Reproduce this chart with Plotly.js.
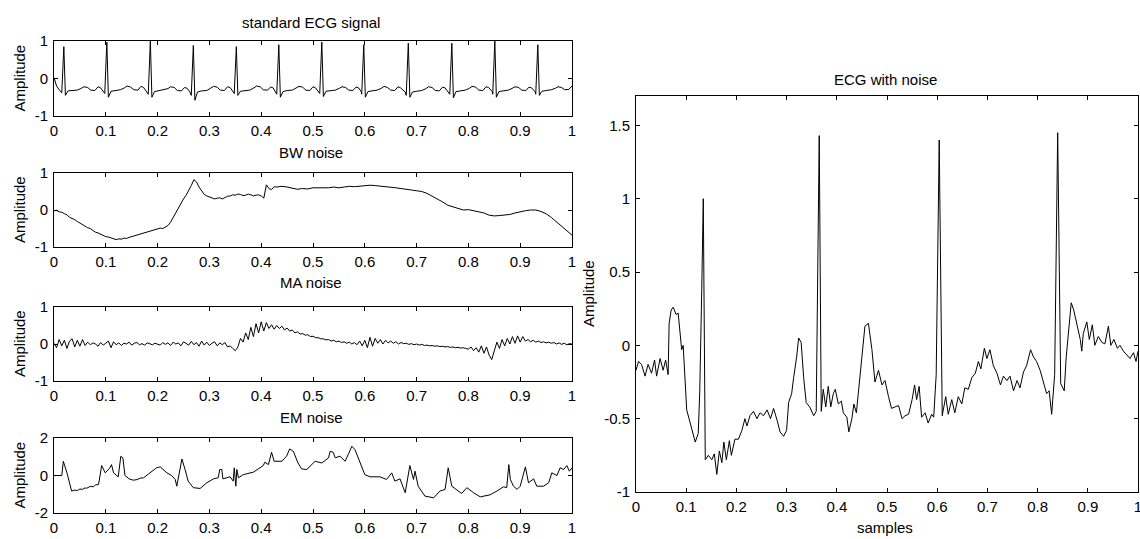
<!DOCTYPE html>
<html>
<head>
<meta charset="utf-8">
<script src="https://cdn.plot.ly/plotly-3.0.1.min.js"></script>
<style>html,body{margin:0;padding:0;background:#fff;}#chart{width:1140px;height:539px;}</style>
</head>
<body>
<div id="chart"></div>
<script>
// ---------- standard ECG signal ----------
const ecgX = [0,0.005,0.010,
0.015,0.019,0.022,0.027,0.035,0.045,0.053,0.058,0.065,0.071,0.079,0.085,0.090,0.095,
0.098,0.102,0.105,0.110,0.118,0.128,0.136,0.141,0.148,0.154,0.162,0.168,0.173,0.178,
0.182,0.186,0.189,0.194,0.202,0.212,0.220,0.225,0.232,0.238,0.246,0.252,0.257,0.262,
0.265,0.269,0.272,0.277,0.285,0.295,0.303,0.308,0.315,0.321,0.329,0.335,0.340,0.345,
0.348,0.352,0.355,0.360,0.368,0.378,0.386,0.391,0.398,0.404,0.412,0.418,0.423,0.428,
0.430,0.434,0.437,0.442,0.450,0.460,0.468,0.473,0.480,0.486,0.494,0.500,0.505,0.510,
0.513,0.517,0.520,0.525,0.533,0.543,0.551,0.556,0.563,0.569,0.577,0.583,0.588,0.593,
0.594,0.598,0.601,0.606,0.614,0.624,0.632,0.637,0.644,0.650,0.658,0.664,0.669,0.678,
0.680,0.684,0.687,0.692,0.700,0.710,0.718,0.723,0.730,0.736,0.744,0.750,0.755,0.762,
0.764,0.768,0.771,0.776,0.784,0.794,0.802,0.807,0.814,0.820,0.828,0.834,0.839,0.846,
0.847,0.851,0.854,0.859,0.867,0.877,0.885,0.890,0.897,0.903,0.911,0.917,0.922,0.929,
0.930,0.934,0.937,0.942,0.950,0.960,0.968,0.973,0.980,0.986,0.994,1.000];
const ecgY = [0.02,-0.2,-0.3,
-0.38,0.85,-0.45,-0.33,-0.32,-0.31,-0.26,-0.22,-0.24,-0.31,-0.32,-0.22,-0.25,-0.34,
-0.40,0.97,-0.50,-0.34,-0.33,-0.30,-0.25,-0.20,-0.23,-0.30,-0.31,-0.21,-0.24,-0.36,
-0.42,1.00,-0.50,-0.35,-0.33,-0.31,-0.27,-0.22,-0.24,-0.32,-0.33,-0.24,-0.26,-0.35,
-0.45,0.88,-0.58,-0.36,-0.33,-0.32,-0.26,-0.21,-0.23,-0.31,-0.32,-0.22,-0.24,-0.35,
-0.40,0.85,-0.45,-0.34,-0.32,-0.31,-0.25,-0.20,-0.22,-0.30,-0.31,-0.23,-0.25,-0.36,
-0.42,0.90,-0.50,-0.35,-0.32,-0.31,-0.26,-0.21,-0.23,-0.31,-0.32,-0.22,-0.25,-0.36,
-0.40,0.97,-0.48,-0.34,-0.33,-0.31,-0.26,-0.22,-0.24,-0.31,-0.32,-0.23,-0.25,-0.35,
-0.42,0.90,-0.50,-0.35,-0.33,-0.31,-0.26,-0.21,-0.24,-0.31,-0.32,-0.22,-0.25,-0.36,
-0.45,0.94,-0.50,-0.36,-0.34,-0.32,-0.27,-0.22,-0.24,-0.32,-0.33,-0.23,-0.25,-0.36,
-0.42,0.94,-0.52,-0.35,-0.33,-0.31,-0.26,-0.21,-0.23,-0.31,-0.32,-0.22,-0.24,-0.35,
-0.42,1.00,-0.50,-0.35,-0.33,-0.31,-0.26,-0.22,-0.24,-0.31,-0.32,-0.23,-0.25,-0.36,
-0.42,0.90,-0.45,-0.34,-0.32,-0.30,-0.26,-0.22,-0.24,-0.30,-0.29,-0.20];

// ---------- BW noise ----------
const bwX = [0,0.005,0.01,0.015,0.02,0.025,0.03,0.035,0.04,0.045,0.05,0.055,0.06,0.065,0.07,0.075,0.08,0.085,0.09,0.095,
0.10,0.105,0.11,0.115,0.12,0.125,0.13,0.135,0.14,0.145,0.15,0.155,0.16,0.165,0.17,0.175,0.18,0.185,0.19,0.195,
0.20,0.205,0.21,0.215,0.22,0.225,0.23,0.235,0.24,0.245,0.25,0.255,0.26,0.265,0.27,0.275,0.28,0.285,0.29,0.295,
0.30,0.305,0.31,0.315,0.32,0.325,0.33,0.335,0.34,0.345,0.35,0.355,0.36,0.365,0.37,0.375,0.38,0.385,0.39,0.395,
0.40,0.405,0.41,0.415,0.42,0.425,0.43,0.44,0.45,0.46,0.47,0.48,0.49,0.50,0.51,0.52,0.53,0.54,0.55,0.56,0.57,0.58,0.59,
0.60,0.61,0.62,0.63,0.64,0.65,0.66,0.67,0.68,0.69,0.70,0.71,0.72,0.73,0.74,0.75,0.76,0.77,0.78,0.79,
0.80,0.81,0.82,0.83,0.84,0.85,0.86,0.87,0.88,0.89,0.90,0.91,0.92,0.93,0.94,0.95,0.96,0.97,0.98,0.99,1.00];
const bwY = [-0.02,-0.01,-0.05,-0.06,-0.10,-0.13,-0.20,-0.22,-0.26,-0.31,-0.35,-0.41,-0.44,-0.48,-0.50,-0.56,-0.60,-0.62,-0.66,-0.70,
-0.72,-0.73,-0.76,-0.79,-0.80,-0.78,-0.79,-0.76,-0.77,-0.74,-0.72,-0.71,-0.68,-0.66,-0.63,-0.62,-0.60,-0.57,-0.55,-0.54,
-0.52,-0.49,-0.50,-0.47,-0.42,-0.33,-0.20,-0.08,0.05,0.18,0.30,0.40,0.52,0.66,0.82,0.76,0.62,0.50,0.42,0.38,
0.35,0.31,0.30,0.32,0.33,0.30,0.34,0.37,0.38,0.41,0.40,0.43,0.42,0.39,0.40,0.43,0.41,0.38,0.40,0.41,
0.38,0.32,0.68,0.58,0.55,0.63,0.62,0.64,0.62,0.60,0.56,0.58,0.57,0.60,0.60,0.58,0.60,0.62,0.60,0.62,0.64,0.63,0.65,
0.66,0.67,0.66,0.65,0.64,0.63,0.60,0.58,0.55,0.54,0.52,0.50,0.45,0.38,0.30,0.22,0.13,0.08,0.03,0.00,
0.01,-0.02,-0.03,-0.08,-0.14,-0.16,-0.15,-0.14,-0.12,-0.08,-0.04,-0.02,0.00,0.00,-0.04,-0.10,-0.20,-0.32,-0.45,-0.55,-0.68];

// ---------- MA noise ----------
const maX = [0,0.005,0.010,0.015,0.020,0.025,0.030,0.035,0.040,0.045,0.050,0.055,0.060,0.065,0.070,0.075,0.080,0.085,0.090,0.095,
0.100,0.105,0.110,0.115,0.120,0.125,0.130,0.135,0.140,0.145,0.150,0.155,0.160,0.165,0.170,0.175,0.180,0.185,0.190,0.195,
0.200,0.205,0.210,0.215,0.220,0.225,0.230,0.235,0.240,0.245,0.250,0.255,0.260,0.265,0.270,0.275,0.280,0.285,0.290,0.295,
0.300,0.305,0.310,0.315,0.320,0.325,0.330,0.335,0.340,0.345,0.350,0.355,0.360,0.365,0.370,0.375,0.380,0.385,0.390,0.395,
0.400,0.405,0.410,0.415,0.420,0.425,0.430,0.435,0.440,0.445,0.450,0.455,0.460,0.465,0.470,0.475,0.480,0.485,0.490,0.495,
0.500,0.505,0.510,0.515,0.520,0.525,0.530,0.535,0.540,0.545,0.550,0.555,0.560,0.565,0.570,0.575,0.580,0.585,0.590,0.595,
0.600,0.605,0.610,0.615,0.620,0.625,0.630,0.635,0.640,0.645,0.650,0.655,0.660,0.665,0.670,0.675,0.680,0.685,0.690,0.695,
0.700,0.705,0.710,0.715,0.720,0.725,0.730,0.735,0.740,0.745,0.750,0.755,0.760,0.765,0.770,0.775,0.780,0.785,0.790,0.795,
0.800,0.805,0.810,0.815,0.820,0.825,0.830,0.835,0.840,0.845,0.850,0.855,0.860,0.865,0.870,0.875,0.880,0.885,0.890,0.895,
0.900,0.905,0.910,0.915,0.920,0.925,0.930,0.935,0.940,0.945,0.950,0.955,0.960,0.965,0.970,0.975,0.980,0.985,0.990,0.995,1.000];
const maY = [0.02,-0.10,0.12,-0.05,0.10,-0.12,0.08,0.14,-0.08,0.10,-0.06,0.12,-0.04,0.05,-0.02,0.03,0.00,-0.06,0.04,-0.03,
0.02,0.08,-0.10,0.06,-0.02,0.03,-0.04,0.02,0.00,0.05,-0.03,0.02,0.04,-0.02,0.01,-0.03,0.03,0.00,-0.02,0.02,
0.00,-0.03,0.04,-0.01,0.03,-0.04,0.05,0.00,0.03,-0.05,0.06,0.01,-0.03,0.07,-0.02,0.04,-0.06,0.08,-0.03,0.05,
-0.04,0.02,0.06,-0.05,0.03,-0.02,0.04,-0.08,-0.05,-0.12,-0.18,-0.08,0.15,0.05,0.30,0.12,0.45,0.20,0.55,0.30,
0.60,0.35,0.58,0.42,0.52,0.40,0.50,0.42,0.48,0.38,0.43,0.35,0.38,0.30,0.33,0.27,0.28,0.24,0.25,0.20,
0.21,0.17,0.17,0.14,0.14,0.11,0.12,0.08,0.10,0.06,0.08,0.04,0.06,0.02,0.05,0.00,0.04,-0.02,0.08,-0.05,
0.10,-0.10,0.18,-0.06,0.15,0.02,0.12,0.00,0.10,0.03,0.08,0.02,0.06,0.00,0.04,0.01,0.02,-0.01,0.01,-0.02,
0.00,-0.03,-0.01,-0.04,-0.03,-0.05,-0.04,-0.06,-0.05,-0.07,-0.06,-0.08,-0.07,-0.09,-0.08,-0.10,-0.09,-0.11,-0.10,-0.12,
-0.14,-0.08,-0.18,-0.10,-0.22,-0.05,-0.25,-0.08,-0.30,-0.42,-0.20,0.05,-0.12,0.12,-0.05,0.15,0.00,0.20,0.02,0.22,
0.05,0.20,0.08,0.12,0.06,0.10,0.05,0.08,0.04,0.06,0.03,0.05,0.02,0.04,0.00,0.03,-0.01,0.02,-0.02,0.01,0.00];

// ---------- EM noise ----------
const emX = [0,0.015,0.018,0.025,0.034,0.040,0.045,0.050,0.055,0.060,0.063,0.070,0.076,0.080,0.086,0.089,0.092,0.099,0.108,0.111,0.115,0.124,0.129,0.133,0.137,0.145,0.153,
0.160,0.167,0.173,0.180,0.188,0.198,0.205,0.218,0.227,0.234,0.237,0.243,0.247,0.253,0.259,0.269,0.282,0.295,0.308,0.317,0.320,0.324,0.326,0.340,
0.346,0.348,0.351,0.353,0.356,0.366,0.385,0.404,0.407,0.414,0.420,0.425,0.430,0.440,0.449,0.455,0.462,0.471,0.478,0.488,
0.504,0.517,0.530,0.533,0.539,0.543,0.552,0.562,0.568,0.575,0.581,0.591,0.600,0.610,0.629,0.642,0.652,0.658,0.668,0.678,
0.687,0.694,0.697,0.703,0.716,0.733,0.745,0.755,0.761,0.768,0.777,0.787,0.797,0.810,0.823,0.842,0.855,0.868,0.874,0.878,
0.881,0.887,0.894,0.900,0.910,0.916,0.926,0.932,0.945,0.955,0.961,0.971,0.977,0.984,0.990,0.995,1.000];
const emY = [0,0,0.76,0.14,-0.83,-0.78,-0.80,-0.72,-0.74,-0.66,-0.68,-0.58,-0.60,-0.50,-0.48,0.05,0.53,0.14,0.41,0.58,0.14,-0.07,1.03,0.94,0,-0.18,-0.25,
-0.22,-0.14,-0.12,0.02,0.20,0.41,0.46,0.14,0,-0.21,-0.57,0.41,0.88,0.32,-0.30,-0.65,-0.69,-0.39,-0.18,-0.12,0.32,0.32,-0.18,-0.07,
-0.30,0.41,-0.57,0.32,-0.12,0.05,0.18,0.53,0.71,0.58,1.24,0.76,0.76,0.76,1.03,1.42,1.29,0.67,0.35,0.32,
0.76,0.67,0.94,1.29,1.24,0.94,1.03,0.76,1.12,1.56,1.38,0.67,0.05,-0.07,-0.07,-0.21,0.14,-0.30,-0.18,-0.92,
0.53,-0.21,0.23,-0.57,-1.10,-1.19,-0.83,-0.74,0.41,-0.57,-0.74,-0.96,-0.65,-0.92,-1.14,-1.03,-0.83,-0.60,-0.65,0.58,
-0.21,-0.57,-0.74,-0.57,0.46,-0.39,-0.18,-0.57,-0.57,-0.39,0.14,0,0.41,0.32,0.53,0.23,0.41];

// ---------- ECG with noise ----------
const noisyX = [0,0.005,0.011,0.018,0.024,0.031,0.037,0.041,0.048,0.054,0.059,0.064,0.066,0.070,0.074,0.080,0.084,0.088,0.091,0.094,
0.101,0.108,0.114,0.118,0.124,0.127,0.131,0.134,0.138,0.144,0.151,0.156,0.161,0.166,0.171,0.175,0.180,0.186,0.190,0.197,
0.204,0.211,0.217,0.221,0.227,0.234,0.241,0.247,0.254,0.261,0.268,0.274,0.281,0.287,0.294,0.300,0.304,0.310,0.314,0.320,
0.324,0.329,0.334,0.339,0.346,0.354,0.359,0.365,0.369,0.373,0.378,0.383,0.388,0.393,0.397,0.403,0.409,0.413,0.420,0.424,
0.430,0.434,0.439,0.444,0.450,0.456,0.463,0.470,0.476,0.483,0.490,0.496,0.503,0.509,0.516,0.523,0.530,0.536,0.543,0.550,
0.555,0.559,0.564,0.569,0.576,0.582,0.589,0.593,0.598,0.604,0.610,0.617,0.622,0.629,0.635,0.642,0.649,0.655,0.662,0.669,
0.676,0.682,0.687,0.694,0.699,0.705,0.712,0.719,0.726,0.732,0.739,0.745,0.752,0.759,0.765,0.772,0.778,0.786,0.792,0.798,
0.805,0.811,0.818,0.823,0.828,0.834,0.840,0.846,0.853,0.857,0.862,0.867,0.872,0.879,0.885,0.888,0.891,0.898,0.903,0.909,
0.914,0.921,0.928,0.934,0.941,0.946,0.952,0.959,0.964,0.971,0.978,0.984,0.991,0.996,1.000];
const noisyY = [-0.17,-0.11,-0.13,-0.21,-0.13,-0.19,-0.10,-0.21,-0.09,-0.17,-0.10,-0.20,0.15,0.24,0.26,0.21,0.22,0.09,-0.03,0.00,
-0.44,-0.53,-0.62,-0.66,-0.60,-0.31,0.38,1.00,-0.78,-0.75,-0.78,-0.74,-0.88,-0.72,-0.80,-0.66,-0.78,-0.65,-0.75,-0.64,
-0.64,-0.58,-0.50,-0.55,-0.48,-0.45,-0.50,-0.46,-0.48,-0.44,-0.50,-0.43,-0.51,-0.59,-0.62,-0.58,-0.39,-0.33,-0.22,-0.08,
0.05,0.02,-0.22,-0.39,-0.42,-0.48,-0.45,1.43,-0.45,-0.30,-0.42,-0.28,-0.42,-0.33,-0.30,-0.40,-0.38,-0.46,-0.49,-0.59,
-0.50,-0.40,-0.46,-0.30,-0.10,0.13,0.15,-0.03,-0.25,-0.17,-0.27,-0.24,-0.35,-0.43,-0.42,-0.41,-0.50,-0.48,-0.47,-0.37,
-0.27,-0.37,-0.28,-0.49,-0.46,-0.53,-0.47,-0.49,-0.20,1.40,-0.48,-0.35,-0.47,-0.37,-0.46,-0.35,-0.40,-0.29,-0.30,-0.22,
-0.19,-0.11,-0.16,-0.02,-0.09,-0.03,-0.14,-0.19,-0.27,-0.21,-0.24,-0.21,-0.31,-0.24,-0.29,-0.18,-0.14,-0.03,-0.08,-0.11,
-0.17,-0.24,-0.33,-0.31,-0.47,-0.20,1.45,-0.26,-0.31,-0.08,0.13,0.29,0.24,0.14,0.04,-0.04,0.08,0.16,0.04,0.14,
0.00,0.06,0.02,0.01,0.13,0.00,0.04,-0.02,0.00,-0.04,-0.07,-0.09,-0.05,-0.11,-0.04];

// ---------- ticks / labels ----------
const xTickVals = [0,0.1,0.2,0.3,0.4,0.5,0.6,0.7,0.8,0.9,1];
const xTickText = ["0","0.1","0.2","0.3","0.4","0.5","0.6","0.7","0.8","0.9","1"];
const yTickVals1 = [-1,0,1];
const yTickText1 = ["-1","0","1"];
const yTickVals2 = [-2,0,2];
const yTickText2 = ["-2","0","2"];
const yTickValsR = [-1,-0.5,0,0.5,1,1.5];
const yTickTextR = ["-1","-0.5","0","0.5","1","1.5"];
const panelTitles = ["standard ECG signal","BW noise","MA noise","EM noise","ECG with noise"];
const yLabel = "Amplitude";
const xLabel = "samples";

const W = 1140, H = 539;
const FONT = {family: '"Liberation Sans", Arial, Helvetica, sans-serif', size: 15, color: '#000'};
const px = v => v / W;
const py = v => (H - v) / H;

function xa(domain, anchor) {
  return {domain: domain, anchor: anchor, range: [0, 1], tickmode: 'array', tickvals: xTickVals, ticktext: xTickText,
    showline: true, linecolor: '#000', linewidth: 1, mirror: 'allticks', ticks: 'inside', ticklen: 4, tickcolor: '#000',
    showgrid: false, zeroline: false, tickfont: FONT, ticklabelstandoff: 1, ticklabeloverflow: 'allow', fixedrange: true};
}
function ya(domain, anchor, range, vals, text) {
  return {domain: domain, anchor: anchor, range: range, tickmode: 'array', tickvals: vals, ticktext: text,
    showline: true, linecolor: '#000', linewidth: 1, mirror: 'allticks', ticks: 'inside', ticklen: 4, tickcolor: '#000',
    showgrid: false, zeroline: false, tickfont: FONT, ticklabelstandoff: 2, ticklabeloverflow: 'allow', fixedrange: true};
}

const LX = [px(54), px(572)];
const RX = [px(636), px(1138)];
const D1 = [py(116), py(41)];
const D2 = [py(247), py(173)];
const D3 = [py(381), py(307)];
const D4 = [py(513), py(438)];
const DR = [py(492), py(96)];

const line = {color: '#000', width: 1};
const traces = [
  {x: ecgX, y: ecgY, xaxis: 'x', yaxis: 'y', type: 'scatter', mode: 'lines', line: line, hoverinfo: 'skip'},
  {x: bwX, y: bwY, xaxis: 'x2', yaxis: 'y2', type: 'scatter', mode: 'lines', line: line, hoverinfo: 'skip'},
  {x: maX, y: maY, xaxis: 'x3', yaxis: 'y3', type: 'scatter', mode: 'lines', line: line, hoverinfo: 'skip'},
  {x: emX, y: emY, xaxis: 'x4', yaxis: 'y4', type: 'scatter', mode: 'lines', line: line, hoverinfo: 'skip'},
  {x: noisyX, y: noisyY, xaxis: 'x5', yaxis: 'y5', type: 'scatter', mode: 'lines', line: line, hoverinfo: 'skip'}
];

function ann(text, x, y, angle) {
  return {text: text, x: x, y: y, xref: 'paper', yref: 'paper', xanchor: 'center', yanchor: 'middle',
    showarrow: false, font: FONT, textangle: angle || 0};
}

const layout = {
  width: W, height: H, margin: {l: 0, r: 0, t: 0, b: 0}, paper_bgcolor: '#fff', plot_bgcolor: '#fff',
  showlegend: false, font: FONT,
  xaxis: xa(LX, 'y'), yaxis: ya(D1, 'x', [-1, 1], yTickVals1, yTickText1),
  xaxis2: xa(LX, 'y2'), yaxis2: ya(D2, 'x2', [-1, 1], yTickVals1, yTickText1),
  xaxis3: xa(LX, 'y3'), yaxis3: ya(D3, 'x3', [-1, 1], yTickVals1, yTickText1),
  xaxis4: xa(LX, 'y4'), yaxis4: ya(D4, 'x4', [-2, 2], yTickVals2, yTickText2),
  xaxis5: xa(RX, 'y5'), yaxis5: ya(DR, 'x5', [-1, 1.7], yTickValsR, yTickTextR),
  annotations: [
    ann(panelTitles[0], px(311), py(22)),
    ann(panelTitles[1], px(311), py(152)),
    ann(panelTitles[2], px(311), py(283)),
    ann(panelTitles[3], px(311), py(417)),
    ann(panelTitles[4], px(885), py(79)),
    ann(xLabel, px(885), py(527)),
    ann(yLabel, px(19), py(78.5), -90),
    ann(yLabel, px(19), py(210), -90),
    ann(yLabel, px(19), py(344), -90),
    ann(yLabel, px(19), py(475.5), -90),
    ann(yLabel, px(588), py(294), -90)
  ]
};

Plotly.newPlot('chart', traces, layout, {staticPlot: true, displayModeBar: false});
</script>
</body>
</html>
